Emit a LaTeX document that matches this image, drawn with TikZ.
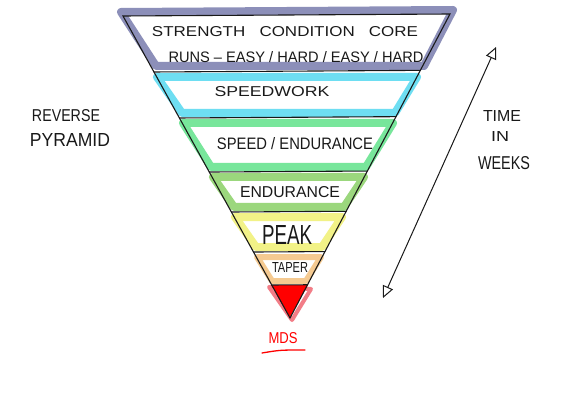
\documentclass[tikz,border=0pt]{standalone}
\usepackage{fontspec}
\usepackage{graphicx}
\setmainfont{Liberation Sans}
\usetikzlibrary{arrows.meta,calc}
\newcommand{\hw}[3]{\resizebox{#1pt}{#2pt}{#3}}
\definecolor{cgray}{RGB}{140,143,185}
\definecolor{ccyan}{RGB}{110,222,242}
\definecolor{cgreen}{RGB}{120,230,155}
\definecolor{cleaf}{RGB}{155,215,125}
\definecolor{cyell}{RGB}{242,242,135}
\definecolor{corange}{RGB}{245,202,145}
\definecolor{cpink}{RGB}{242,125,135}
\definecolor{ink}{RGB}{25,25,25}
\begin{document}
\begin{tikzpicture}[x=1pt,y=-1pt,
  band/.style={line width=8pt,line join=round,fill=white},
  outline/.style={draw=ink,line width=1.1pt,line cap=round},
  lbl/.style={inner sep=0pt,text=ink},
  timearrow/.style={draw=ink,line width=1pt,
    {Triangle[open,length=12pt,width=11pt]}-{Triangle[open,length=12pt,width=11pt]}}]
\useasboundingbox[fill=white] (0,0) rectangle (584,401);
% coloured bands
\draw[band,draw=cgray] (121,12) -- (453,10) -- (424,66) -- (156,66) -- cycle;
\draw[band,draw=ccyan] (157,77) -- (417,77) -- (395,113) -- (182,113) -- cycle;
\draw[band,draw=cgreen] (183,123) -- (393,123) -- (366,167) -- (211,167) -- cycle;
\draw[band,draw=cleaf] (213,177) -- (364,177) -- (344,207) -- (234,207) -- cycle;
\draw[band,draw=cyell] (235,217) -- (342,217) -- (322,247) -- (256,247) -- cycle;
\draw[band,line width=6pt,draw=corange] (257,257) -- (321,257) -- (306,281) -- (272,281) -- cycle;
\draw[cpink,line width=4pt,line join=round] (269,287) -- (311,289) -- (292,320) -- cycle;
\fill[red] (271,285) -- (308,285) -- (290,317) -- cycle;
% outline of the pyramid
\coordinate (TL) at (123,16);
\coordinate (TR) at (450,14);
\coordinate (A) at (290,318);
\draw[outline] (TL) -- (TR) -- (A) -- cycle;
\foreach \f in {0.1854,0.3377,0.5166,0.649,0.7815,0.8907}{
  \draw[outline] ($(TL)!\f!(A)$) -- ($(TR)!\f!(A)$);
}
% texts
\node[lbl] (t1) at (285,32) {\hw{266}{10}{STRENGTH \ \ CONDITION \ \ CORE}};
\node[lbl] (t2) at (296,57) {\hw{255}{11}{RUNS – EASY / HARD / EASY / HARD}};
\node[lbl] (t3) at (272,92) {\hw{115}{10}{SPEEDWORK}};
\node[lbl] (t4) at (295,144) {\hw{156}{12}{SPEED / ENDURANCE}};
\node[lbl] (t5) at (290,192) {\hw{100}{11}{ENDURANCE}};
\node[lbl] (t6) at (287,235) {\hw{50}{19}{PEAK}};
\node[lbl] (t7) at (290,267) {\hw{36}{10}{TAPER}};
\node[lbl,text=red] (mds) at (283,338) {\hw{29}{11}{MDS}};
\coordinate (u1) at (262,353);
\coordinate (u2) at (305,350);
\draw[red,line width=1.3pt,line cap=round] (u1) .. controls (280,350) .. (u2);
\node[lbl] (r1) at (66,116) {\hw{68}{12}{REVERSE}};
\node[lbl] (r2) at (70,140) {\hw{80}{13}{PYRAMID}};
\node[lbl] (w1) at (502,116) {\hw{38}{11}{TIME}};
\node[lbl] (w2) at (500,137) {\hw{18}{10}{IN}};
\node[lbl] (w3) at (504,163) {\hw{52}{13}{WEEKS}};
% time arrow
\coordinate (arB) at (383,298);
\coordinate (arT) at (496,47);
\draw[timearrow] (arB) -- (arT);
\end{tikzpicture}
\end{document}
